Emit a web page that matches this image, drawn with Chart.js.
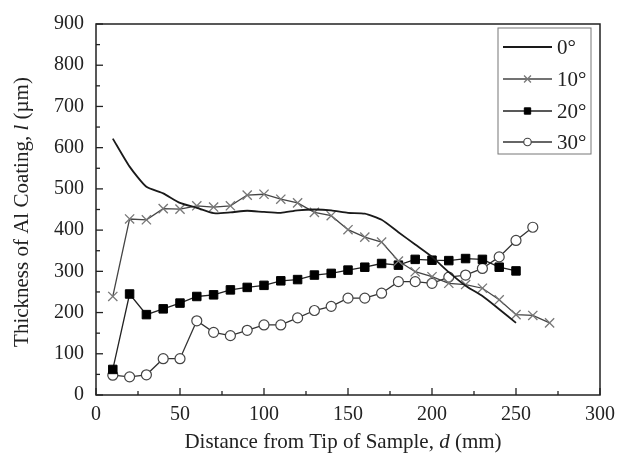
<!DOCTYPE html>
<html>
<head>
<meta charset="utf-8">
<script src="https://cdn.jsdelivr.net/npm/chart.js@4.4.0/dist/chart.umd.min.js"></script>
<style>
html,body{margin:0;padding:0;background:#fff;}
#wrap{width:623px;height:464px;}
</style>
</head>
<body>
<div id="wrap"><canvas id="grafica" width="623" height="464"></canvas></div>
<script>

// datos
const dist0 = [10,20,30,40,50,60,70,80,90,100,110,120,130,140,150,160,170,180,190,200,210,220,230,240,250];
const esp0 = [622,554,505,489,466,454,441,443,447,444,442,448,450,448,442,440,425,395,365,335,298,265,240,208,175];

const dist10 = [10,20,30,40,50,60,70,80,90,100,110,120,130,140,150,160,170,180,190,200,210,220,230,240,250,260,270];
const esp10 = [239,427,425,452,451,459,456,459,485,487,475,466,443,435,401,383,371,325,299,287,271,268,259,231,195,193,175];

const dist20 = [10,20,30,40,50,60,70,80,90,100,110,120,130,140,150,160,170,180,190,200,210,220,230,240,250];
const esp20 = [62,245,195,209,223,239,243,255,261,266,277,280,291,295,303,310,319,315,329,327,326,331,329,310,301];

const dist30 = [10,20,30,40,50,60,70,80,90,100,110,120,130,140,150,160,170,180,190,200,210,220,230,240,250,260];
const esp30 = [48,44,49,88,88,180,152,144,157,170,170,187,205,215,235,235,247,275,275,271,286,291,307,335,375,407];

const etiquetas = ["0°","10°","20°","30°"];

const ticksX = [0,50,100,150,200,250,300];
const ticksY = [0,100,200,300,400,500,600,700,800,900];

const fuente = "'Liberation Serif','DejaVu Serif',serif";

function puntos(xs,ys){
return xs.map((x,i)=>({x:x,y:ys[i]}));
}

/* marco, ticks hacia adentro, leyenda y titulos */
const marcoPlugin = {
id:"marco",
afterDraw(chart){
const ctx = chart.ctx;
const a = chart.chartArea;
const sx = chart.scales.x;
const sy = chart.scales.y;

ctx.save();
ctx.strokeStyle = "#222";
ctx.lineWidth = 1.5;
ctx.strokeRect(a.left,a.top,a.right-a.left,a.bottom-a.top);

ctx.lineWidth = 1.3;
for(let v=0; v<=300; v+=25){
const px = sx.getPixelForValue(v);
const l = v%50===0 ? 7 : 4;
ctx.beginPath();
ctx.moveTo(px,a.bottom);
ctx.lineTo(px,a.bottom-l);
ctx.stroke();
}
for(let v=0; v<=900; v+=50){
const py = sy.getPixelForValue(v);
const l = v%100===0 ? 7 : 4;
ctx.beginPath();
ctx.moveTo(a.left,py);
ctx.lineTo(a.left+l,py);
ctx.stroke();
}

/* leyenda */
const lx = 498, ly = 28, lw = 93, lh = 126;
ctx.strokeStyle = "#777";
ctx.lineWidth = 1;
ctx.strokeRect(lx,ly,lw,lh);

const filas = [47,79,111,142];
chart.data.datasets.forEach((ds,i)=>{
const y = filas[i];
ctx.strokeStyle = ds.borderColor;
ctx.lineWidth = ds.borderWidth;
ctx.beginPath();
ctx.moveTo(503,y);
ctx.lineTo(552,y);
ctx.stroke();
if(ds.pointRadius>0){
ctx.strokeStyle = ds.pointBorderColor;
ctx.fillStyle = ds.pointBackgroundColor;
ctx.lineWidth = ds.pointBorderWidth;
Chart.helpers.drawPoint(ctx,{
pointStyle:ds.pointStyle,
radius:ds.pointRadius*0.75,
borderWidth:ds.pointBorderWidth,
rotation:0
},527.5,y);
}
ctx.fillStyle = "#222";
ctx.font = "21px "+fuente;
ctx.textAlign = "left";
ctx.textBaseline = "middle";
ctx.fillText(etiquetas[i],557,y+1);
});

/* titulos de ejes con parte en cursiva */
function textoMixto(partes,cx,cy){
let total = 0;
partes.forEach(p=>{
ctx.font = (p[1]?"italic ":"")+"21px "+fuente;
total += ctx.measureText(p[0]).width;
});
let x = cx-total/2;
partes.forEach(p=>{
ctx.font = (p[1]?"italic ":"")+"21px "+fuente;
ctx.fillText(p[0],x,cy);
x += ctx.measureText(p[0]).width;
});
}

ctx.fillStyle = "#222";
ctx.textAlign = "left";
ctx.textBaseline = "middle";
textoMixto([["Distance from Tip of Sample, ",false],["d",true],[" (mm)",false]],343,442);

ctx.translate(22,212);
ctx.rotate(-Math.PI/2);
textoMixto([["Thickness of Al Coating, ",false],["l",true],[" (µm)",false]],0,0);

ctx.restore();
}
};

new Chart(document.getElementById("grafica"),{
type:"line",
data:{
datasets:[
{
label:etiquetas[0],
data:puntos(dist0,esp0),
borderColor:"#1a1a1a",
borderWidth:1.8,
pointRadius:0,
pointBorderColor:"#1a1a1a",
pointBackgroundColor:"#1a1a1a",
pointBorderWidth:1,
tension:0.2
},
{
label:etiquetas[1],
data:puntos(dist10,esp10),
borderColor:"#444",
borderWidth:1.3,
pointStyle:"crossRot",
pointRadius:6.5,
pointBorderColor:"#777",
pointBackgroundColor:"#777",
pointBorderWidth:1.3
},
{
label:etiquetas[2],
data:puntos(dist20,esp20),
borderColor:"#222",
borderWidth:1.3,
pointStyle:"rect",
pointRadius:6,
pointBorderColor:"#000",
pointBackgroundColor:"#000",
pointBorderWidth:1
},
{
label:etiquetas[3],
data:puntos(dist30,esp30),
borderColor:"#333",
borderWidth:1.3,
pointStyle:"circle",
pointRadius:5,
pointBorderColor:"#444",
pointBackgroundColor:"#fff",
pointBorderWidth:1.2
}
]
},
options:{
responsive:false,
animation:false,
layout:{padding:{top:19,right:17,left:0,bottom:0}},
plugins:{
legend:{display:false},
tooltip:{enabled:false}
},
scales:{
x:{
type:"linear",
min:0,
max:300,
afterBuildTicks:s=>{ s.ticks = ticksX.map(v=>({value:v})); },
afterFit:s=>{ s.height = 69; },
grid:{display:false,drawTicks:false},
border:{display:false},
ticks:{
padding:8,
color:"#222",
font:{family:fuente,size:20}
}
},
y:{
min:0,
max:900,
afterBuildTicks:s=>{ s.ticks = ticksY.map(v=>({value:v})); },
afterFit:s=>{ s.width = 96; },
grid:{display:false,drawTicks:false},
border:{display:false},
ticks:{
padding:12,
color:"#222",
font:{family:fuente,size:20}
}
}
}
},
plugins:[marcoPlugin]
});

</script>
</body>
</html>
